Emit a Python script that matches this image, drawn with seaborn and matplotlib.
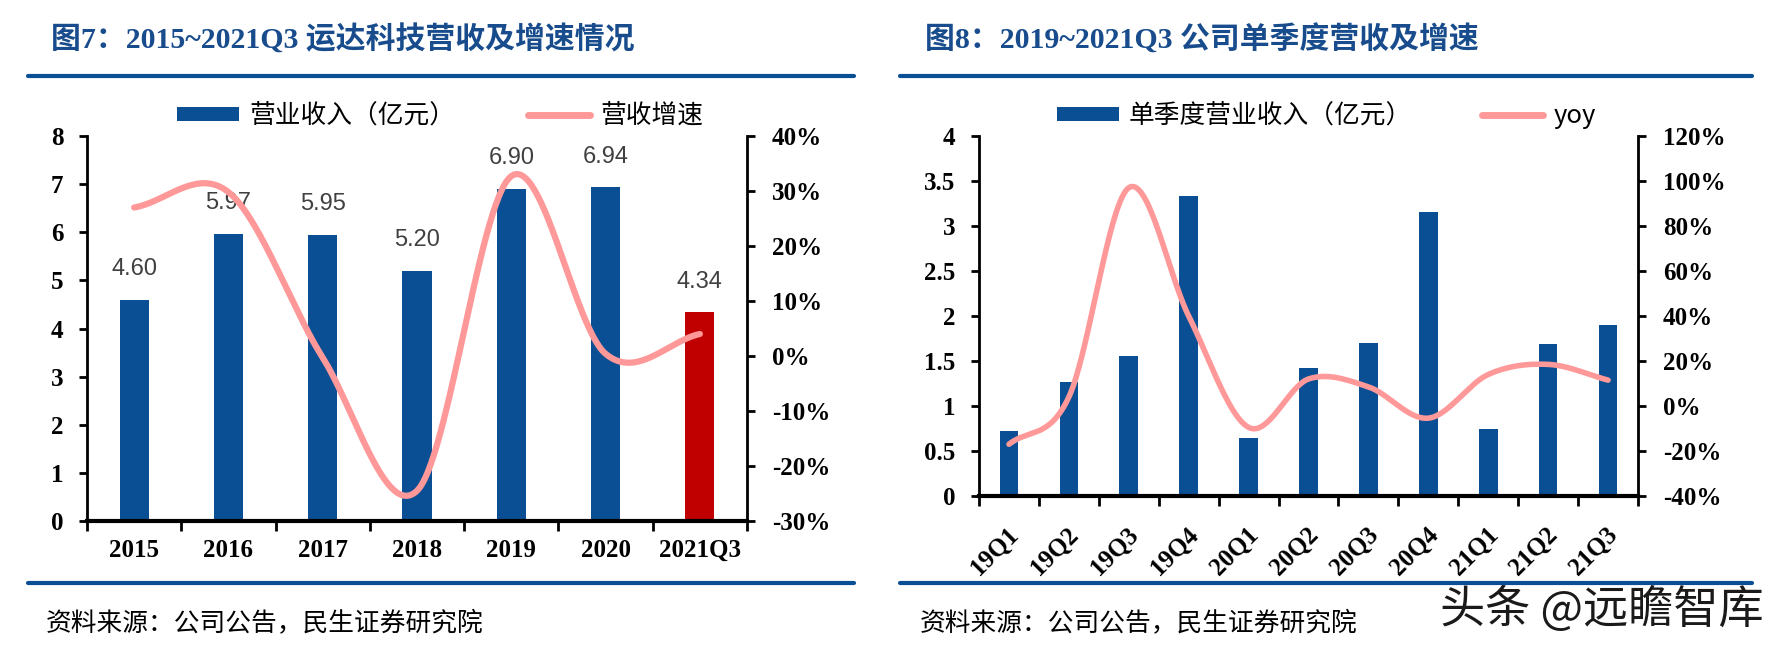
import numpy as np
import pandas as pd
import matplotlib
matplotlib.use("Agg")
import matplotlib.pyplot as plt
import seaborn as sns
from matplotlib.lines import Line2D
from matplotlib.patches import Patch
from matplotlib.ticker import FuncFormatter, FixedLocator
from matplotlib.transforms import ScaledTranslation

# ---------------- data ----------------
years = ["2015", "2016", "2017", "2018", "2019", "2020", "2021Q3"]
revenue = [4.60, 5.97, 5.95, 5.20, 6.90, 6.94, 4.34]
revenue_growth = [27.0, 29.8, -0.3, -24.5, 32.7, 0.4, 4.0]

quarters = ["19Q1", "19Q2", "19Q3", "19Q4", "20Q1", "20Q2", "20Q3", "20Q4", "21Q1", "21Q2", "21Q3"]
q_revenue = [0.72, 1.27, 1.56, 3.33, 0.65, 1.42, 1.70, 3.15, 0.75, 1.69, 1.90]
q_yoy = [-17.0, 4.0, 97.0, 40.0, -9.5, 12.0, 8.5, -5.4, 14.0, 18.5, 11.5]

title_left = "图7：2015~2021Q3 运达科技营收及增速情况"
title_right = "图8：2019~2021Q3 公司单季度营收及增速"
legend_left = ["营业收入（亿元）", "营收增速"]
legend_right = ["单季度营业收入（亿元）", "yoy"]
source_text = "资料来源：公司公告，民生证券研究院"
watermark = "头条 @远瞻智库"

# ---------------- style ----------------
sns.set_theme(style="white")
plt.rcParams["font.family"] = ["Liberation Serif", "Noto Sans CJK SC", "DejaVu Sans"]

BLUE = "#0A4E93"
RED = "#C00000"
PINK = "#FF9999"
TITLE_BLUE = "#184C8C"
CJK = ["Noto Sans CJK SC", "DejaVu Sans"]
SERIF_B = ["Liberation Serif", "Noto Sans CJK SC"]

W, H = 1786, 651
fig = plt.figure(figsize=(W / 100, H / 100), dpi=100)
fig.patch.set_facecolor("white")


def fx(px):
    return px / W


def fy(py):
    return 1 - py / H


def smooth(vals, n=60):
    y = np.asarray(vals, float)
    P = np.concatenate([[2 * y[0] - y[1]], y, [2 * y[-1] - y[-2]]])
    xs, ys = [], []
    for i in range(len(y) - 1):
        t = np.linspace(0, 1, n, endpoint=(i == len(y) - 2))
        p0, p1, p2, p3 = P[i], P[i + 1], P[i + 2], P[i + 3]
        m1 = (p2 - p0) / 2
        m2 = (p3 - p1) / 2
        h00 = 2 * t**3 - 3 * t**2 + 1
        h10 = t**3 - 2 * t**2 + t
        h01 = -2 * t**3 + 3 * t**2
        h11 = t**3 - t**2
        ys.append(h00 * p1 + h10 * m1 + h01 * p2 + h11 * m2)
        xs.append(i + t)
    return np.concatenate(xs), np.concatenate(ys)


def style_axes(ax, axr, n, ylim, yticks, rlim, rticks, yfmt, xpad=11):
    ax.set_xlim(-0.5, n - 0.5)
    ax.set_ylim(*ylim)
    ax.set_yticks(yticks)
    ax.yaxis.set_major_formatter(FuncFormatter(yfmt))
    axr.set_ylim(*rlim)
    axr.set_yticks(rticks)
    axr.yaxis.set_major_formatter(FuncFormatter(lambda v, _: f"{int(round(v))}%"))
    # x ticks at category boundaries, labels at centers
    ax.xaxis.set_major_locator(FixedLocator(np.arange(-0.5, n, 1.0)))
    ax.set_xticklabels([""] * (n + 1))
    ax.set_xticks(np.arange(n), minor=True)
    ax.set_xlabel("")
    ax.set_ylabel("")
    axr.set_ylabel("")
    for s in ["top", "right"]:
        ax.spines[s].set_visible(False)
    for s in ["top", "left", "bottom"]:
        axr.spines[s].set_visible(False)
    ax.spines["left"].set_color("black")
    ax.spines["left"].set_linewidth(2)
    ax.spines["bottom"].set_color("black")
    ax.spines["bottom"].set_linewidth(3)
    axr.spines["right"].set_color("black")
    axr.spines["right"].set_linewidth(2)
    ax.tick_params(axis="y", which="major", direction="out", length=6, width=2,
                   color="black", left=True, pad=11, labelsize=18)
    axr.tick_params(axis="y", which="major", direction="out", length=6, width=2,
                    color="black", right=True, pad=12, labelsize=18)
    ax.tick_params(axis="x", which="major", direction="out", length=7, width=2,
                   color="black", bottom=True)
    ax.tick_params(axis="x", which="minor", length=0, pad=xpad, labelsize=18, bottom=True)
    for lab in ax.get_yticklabels() + axr.get_yticklabels():
        lab.set_fontfamily(SERIF_B)
        lab.set_fontweight("bold")
        lab.set_color("black")
    axr.set_zorder(ax.get_zorder() + 1)
    axr.patch.set_visible(False)
    ax.grid(False)
    axr.grid(False)


# ---------------- left chart ----------------
ax1 = fig.add_axes([fx(87), fy(521), fx(747 - 87), (521 - 136) / H])
ax1r = ax1.twinx()
df1 = pd.DataFrame({"cat": years, "val": revenue})
colors1 = [BLUE] * (len(years) - 1) + [RED]
sns.barplot(data=df1, x="cat", y="val", hue="cat", palette=colors1, legend=False,
            width=0.31, saturation=1, linewidth=0, ax=ax1)
for i, v in enumerate(revenue):
    ax1.annotate(f"{v:.2f}", (i, v), xytext=(0, 14), textcoords="offset points",
                 ha="center", va="bottom", fontsize=17, color="#404040",
                 fontfamily=["Liberation Sans", "DejaVu Sans"])
sx, sy = smooth(revenue_growth)
sns.lineplot(x=sx, y=sy, ax=ax1r, color=PINK, linewidth=4.5, sort=False,
             estimator=None, solid_capstyle="round")
style_axes(ax1, ax1r, len(years), (0, 8), range(0, 9), (-30, 40), range(-30, 41, 10),
           lambda v, _: f"{int(v)}", xpad=13)
ax1.set_xticklabels(years, minor=True, fontfamily=SERIF_B, fontweight="bold", color="black")

# ---------------- right chart ----------------
ax2 = fig.add_axes([fx(979), fy(496), fx(1638 - 979), (496 - 136) / H])
ax2r = ax2.twinx()
df2 = pd.DataFrame({"cat": quarters, "val": q_revenue})
sns.barplot(data=df2, x="cat", y="val", color=BLUE, width=0.31, saturation=1,
            linewidth=0, ax=ax2)
sx2, sy2 = smooth(q_yoy)
sns.lineplot(x=sx2, y=sy2, ax=ax2r, color=PINK, linewidth=4.0, sort=False,
             estimator=None, solid_capstyle="round")
style_axes(ax2, ax2r, len(quarters), (0, 4), np.arange(0, 4.01, 0.5), (-40, 120),
           range(-40, 121, 20), lambda v, _: f"{v:g}", xpad=25)
ax2.set_xticklabels(quarters, minor=True, fontfamily=SERIF_B, fontweight="bold",
                    color="black", rotation=45, ha="right", va="center",
                    rotation_mode="anchor")
shift = ScaledTranslation(6 / 100, 0, fig.dpi_scale_trans)
for lab in ax2.get_xticklabels(minor=True):
    lab.set_transform(lab.get_transform() + shift)

# ---------------- legends ----------------
for ax, labels, x0, col in [(ax1, legend_left, 177, 2.85), (ax2, legend_right, 1057, 2.7)]:
    handles = [Patch(facecolor=BLUE, edgecolor="none"),
               Line2D([0], [0], color=PINK, lw=5, solid_capstyle="round")]
    leg = ax.legend(handles, labels, loc="center left", bbox_to_anchor=(fx(x0), fy(116)),
                    bbox_transform=fig.transFigure, ncol=2, frameon=False,
                    handlelength=2.4, handleheight=0.48, handletextpad=0.4,
                    columnspacing=col, borderpad=0, borderaxespad=0,
                    prop={"family": CJK, "size": 18.5})
    for t in leg.get_texts():
        t.set_color("black")

# ---------------- titles, rules, sources ----------------
fig.text(fx(51), fy(40), title_left, fontsize=21.5, fontweight="bold", color=TITLE_BLUE,
         fontfamily=SERIF_B, ha="left", va="center")
fig.text(fx(925), fy(40), title_right, fontsize=21.5, fontweight="bold", color=TITLE_BLUE,
         fontfamily=SERIF_B, ha="left", va="center")
for x0, x1 in [(28, 854), (900, 1752)]:
    for yy in (76, 583):
        fig.add_artist(Line2D([fx(x0), fx(x1)], [fy(yy), fy(yy)], transform=fig.transFigure,
                              color=BLUE, linewidth=3, zorder=5))
fig.text(fx(46), fy(624), source_text, fontsize=18.5, color="black", fontfamily=CJK,
         ha="left", va="center")
fig.text(fx(920), fy(624), source_text, fontsize=18.5, color="black", fontfamily=CJK,
         ha="left", va="center")
fig.text(fx(1440), fy(610), watermark, fontsize=32.5, color="#1a1a1a", fontfamily=CJK,
         ha="left", va="center", zorder=4,
         bbox=dict(facecolor="white", edgecolor="none", pad=2))

fig.savefig("out.png", dpi=100, facecolor="white")
